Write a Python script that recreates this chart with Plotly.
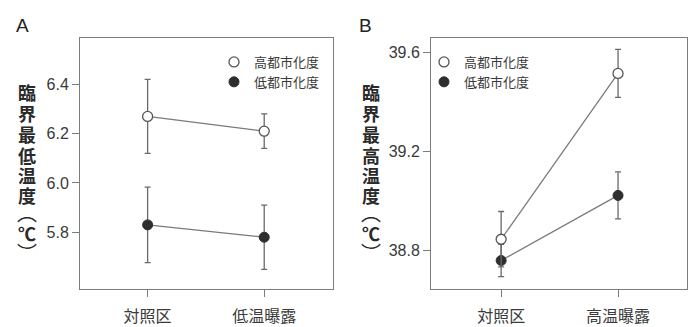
import plotly.graph_objects as go

# Panel A: critical thermal minimum
cats_a = ["対照区", "低温曝露"]
high_a = [6.27, 6.21]
high_a_err = [0.15, 0.07]
low_a = [5.83, 5.78]
low_a_err = [0.153, 0.13]

# Panel B: critical thermal maximum
cats_b = ["対照区", "高温曝露"]
high_b = [38.847, 39.517]
high_b_err = [0.112, 0.097]
low_b = [38.761, 39.024]
low_b_err = [0.065, 0.095]

series_names = ["高都市化度", "低都市化度"]
yticks_a = [5.8, 6.0, 6.2, 6.4]
yticks_b = [38.8, 39.2, 39.6]
ytitle_a = "臨界最低温度"
ytitle_b = "臨界最高温度"
unit_open, unit_sym, unit_close = "︵", "℃", "︶"

CJK = "Noto Sans CJK JP"
NUM = "Liberation Sans, Arial, sans-serif"
LINE_C = "#7a7a7a"
ERR_C = "#6a6a6a"
DARK = "#2e2e2e"
FRAME_C = "#7c7c7c"
TEXT_C = "#3a3a3a"
TITLE_C = "#2a2a2a"

fig = go.Figure()


def add_panel(cats, high, high_err, low, low_err, xa, ya, legend):
    # connecting lines
    for vals in (high, low):
        fig.add_trace(go.Scatter(
            x=cats, y=vals, mode="lines", xaxis=xa, yaxis=ya,
            line=dict(color=LINE_C, width=1.3), showlegend=False,
            hoverinfo="skip"))
    # low urbanisation: filled markers
    fig.add_trace(go.Scatter(
        x=cats, y=low, mode="markers", xaxis=xa, yaxis=ya,
        name=series_names[1], legend=legend, legendrank=2,
        error_y=dict(type="data", array=low_err, color=ERR_C,
                     thickness=1.3, width=3),
        marker=dict(symbol="circle", size=10, color=DARK,
                    line=dict(color=DARK, width=1))))
    # high urbanisation: open markers
    fig.add_trace(go.Scatter(
        x=cats, y=high, mode="markers", xaxis=xa, yaxis=ya,
        name=series_names[0], legend=legend, legendrank=1,
        error_y=dict(type="data", array=high_err, color=ERR_C,
                     thickness=1.3, width=3),
        marker=dict(symbol="circle", size=10, color="white",
                    line=dict(color="#555555", width=1.3))))


add_panel(cats_a, high_a, high_a_err, low_a, low_a_err, "x", "y", "legend")
add_panel(cats_b, high_b, high_b_err, low_b, low_b_err, "x2", "y2", "legend2")

W, H = 688, 327


def px_x(v):
    return v / W


def px_y(v):
    return 1 - v / H


axis_common = dict(
    showline=True, mirror=True, linecolor=FRAME_C, linewidth=1,
    showgrid=False, zeroline=False, ticks="outside", ticklen=7,
    tickcolor=FRAME_C, tickwidth=1,
)

legend_common = dict(
    font=dict(family=CJK, size=13, color=TEXT_C),
    bgcolor="rgba(0,0,0,0)", borderwidth=0,
    itemwidth=30, tracegroupgap=0,
    xanchor="left", yanchor="top",
)

fig.update_layout(
    width=W, height=H,
    margin=dict(l=0, r=0, t=0, b=0),
    paper_bgcolor="white", plot_bgcolor="white",
    xaxis=dict(domain=[px_x(80), px_x(333)], range=[-0.58, 1.59],
               type="category", anchor="y", ticklabelstandoff=6,
               tickfont=dict(family=CJK, size=16, color=TEXT_C),
               **axis_common),
    yaxis=dict(domain=[px_y(289), px_y(38)], range=[5.57, 6.588],
               anchor="x", tickvals=yticks_a,
               ticktext=[f"{v:.1f}" for v in yticks_a],
               tickfont=dict(family=NUM, size=16, color=TEXT_C),
               **axis_common),
    xaxis2=dict(domain=[px_x(431), px_x(687)], range=[-0.6, 1.59],
                type="category", anchor="y2", ticklabelstandoff=6,
                tickfont=dict(family=CJK, size=16, color=TEXT_C),
                **axis_common),
    yaxis2=dict(domain=[px_y(289), px_y(38)], range=[38.646, 39.66],
                anchor="x2", tickvals=yticks_b,
                ticktext=[f"{v:.1f}" for v in yticks_b],
                tickfont=dict(family=NUM, size=16, color=TEXT_C),
                **axis_common),
    legend=dict(x=px_x(214), y=px_y(47), **legend_common),
    legend2=dict(x=px_x(424), y=px_y(47), **legend_common),
)

# panel letters
for letter, xpos in (("A", 22), ("B", 366)):
    fig.add_annotation(
        x=px_x(xpos), y=px_y(25), xref="paper", yref="paper",
        text=letter, showarrow=False, xanchor="center", yanchor="middle",
        font=dict(family=NUM, size=19, color="#222222"))


def glyph(ch, x, y, size, bold=True):
    fig.add_annotation(
        x=px_x(x), y=px_y(y), xref="paper", yref="paper",
        text=f"<b>{ch}</b>" if bold else ch, showarrow=False,
        xanchor="center", yanchor="middle",
        font=dict(family=CJK, size=size, color=TITLE_C))


# vertical axis titles, stacked one glyph per row
char_rows = [92, 113, 134, 155, 175, 195]
for title, xpos in ((ytitle_a, 27), (ytitle_b, 371)):
    for ch, ypos in zip(title, char_rows):
        glyph(ch, xpos, ypos, 18)
    glyph(unit_open, xpos, 212, 20, bold=False)
    glyph(unit_sym, xpos, 233, 18)
    glyph(unit_close, xpos, 253, 20, bold=False)

fig.write_html("out.html")
